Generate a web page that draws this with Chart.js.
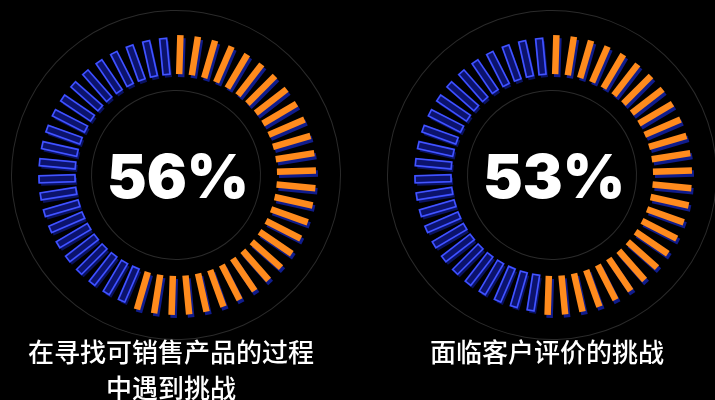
<!DOCTYPE html>
<html>
<head>
<meta charset="utf-8">
<script src="https://cdn.jsdelivr.net/npm/chart.js@4"></script>
<style>
  html, body { margin: 0; padding: 0; background: #000; width: 715px; height: 400px; overflow: hidden; }
  canvas { position: absolute; }
  .label {
    position: absolute; color: #fff; text-align: center; white-space: nowrap;
    font-family: "Noto Sans CJK SC", sans-serif; font-weight: 500; font-size: 26px; line-height: 36px;
  }
</style>
</head>
<body>
<canvas id="gauge0" width="330" height="330" style="left:11px;top:10px"></canvas>
<canvas id="gauge1" width="330" height="330" style="left:387px;top:10px"></canvas>
<div class="label" id="label0" style="left:6px;width:330px;top:333px"></div>
<div class="label" id="label1" style="left:382px;width:330px;top:333px"></div>
<script>
// Share of respondents reporting each challenge (percent)
const shares = [56, 53];
// Caption lines under each gauge
const captions = [
  ['在寻找可销售产品的过程', '中遇到挑战'],
  ['面临客户评价的挑战']
];
// Number of radial ticks around each gauge
const TICK_COUNT = 50;

// Draws the value ring as radial bars, using the arc geometry laid out by the doughnut controller.
const tickRing = {
  id: 'tickRing',
  beforeDatasetDraw(chart, args) {
    const ds = chart.data.datasets[args.index];
    if (!ds.tickRing) return;
    const arcs = args.meta.data;
    const ctx = chart.ctx;
    const p = arcs[0].getProps(['x', 'y', 'startAngle', 'endAngle', 'innerRadius', 'outerRadius'], true);
    const slot = Math.PI * 2 / TICK_COUNT;
    for (let i = 0; i < TICK_COUNT; i++) {
      const a0 = p.startAngle + i * slot;
      const mid = a0 + slot / 2;
      const filled = a0 + slot <= p.endAngle + 1e-6;
      const k = filled ? 0 : 1;
      const bar = (dx, dy, r0, r1, w) => {
        ctx.save();
        ctx.translate(p.x + dx, p.y + dy);
        ctx.rotate(mid);
        ctx.beginPath();
        ctx.rect(r0, -w / 2, r1 - r0, w);
        ctx.restore();
      };
      const r1 = filled ? p.outerRadius : p.outerRadius - 3;
      bar(2, 3, p.innerRadius, r1, ds.barWidth[k]);
      ctx.fillStyle = ds.shadowColor[k];
      ctx.fill();
      bar(0, 0, p.innerRadius, r1, ds.barWidth[k]);
      ctx.fillStyle = ds.backgroundColor[k];
      ctx.fill();
      if (!filled) {
        ctx.lineWidth = 1.8;
        ctx.strokeStyle = ds.borderColor[k];
        ctx.stroke();
        ctx.lineWidth = 0.6;
        ctx.strokeStyle = ds.edgeHighlight[k];
        ctx.stroke();
      }
    }
    return false;
  }
};

// Big percentage in the middle of each gauge
const centerValue = {
  id: 'centerValue',
  afterDraw(chart) {
    const arc = chart.getDatasetMeta(2).data[0];
    const { x, y } = arc.getProps(['x', 'y'], true);
    const ctx = chart.ctx;
    const text = chart.options.plugins.centerValue.text;
    ctx.save();
    ctx.font = '900 60px Inter';
    ctx.fillStyle = '#ffffff';
    ctx.textAlign = 'center';
    ctx.textBaseline = 'alphabetic';
    const w = ctx.measureText(text).width;
    ctx.translate(x + 2, y + 23);
    ctx.scale(142 / w, 1);
    ctx.fillText(text, 0, 0);
    ctx.restore();
  }
};

function buildGauge(canvasId, value) {
  const ring = (weight, color) => ({
    data: [1], weight, backgroundColor: [color], borderWidth: 0
  });
  new Chart(document.getElementById(canvasId), {
    type: 'doughnut',
    data: {
      datasets: [
        ring(1, '#2a2a2a'),
        ring(24, 'rgba(0,0,0,0)'),
        {
          tickRing: true,
          data: [value, 100 - value],
          weight: 39,
          backgroundColor: ['#ff8b1d', '#0c136c'],
          borderColor: ['#ff8b1d', '#2c3ff5'],
          edgeHighlight: ['#ff8b1d', '#5c6bff'],
          shadowColor: ['#101c8c', '#0a1260'],
          barWidth: [6.5, 7],
          borderWidth: 0
        },
        ring(16, 'rgba(0,0,0,0)'),
        ring(1, '#2a2a2a')
      ]
    },
    options: {
      responsive: false,
      animation: false,
      events: [],
      cutout: 84,
      rotation: -1.8,
      layout: { padding: 0 },
      plugins: {
        legend: { display: false },
        tooltip: { enabled: false },
        centerValue: { text: value + '%' }
      }
    },
    plugins: [tickRing, centerValue]
  });
}

shares.forEach((v, i) => buildGauge('gauge' + i, v));
captions.forEach((lines, i) => {
  const el = document.getElementById('label' + i);
  lines.forEach((line, j) => {
    if (j) el.appendChild(document.createElement('br'));
    el.appendChild(document.createTextNode(line));
  });
});
</script>
</body>
</html>
